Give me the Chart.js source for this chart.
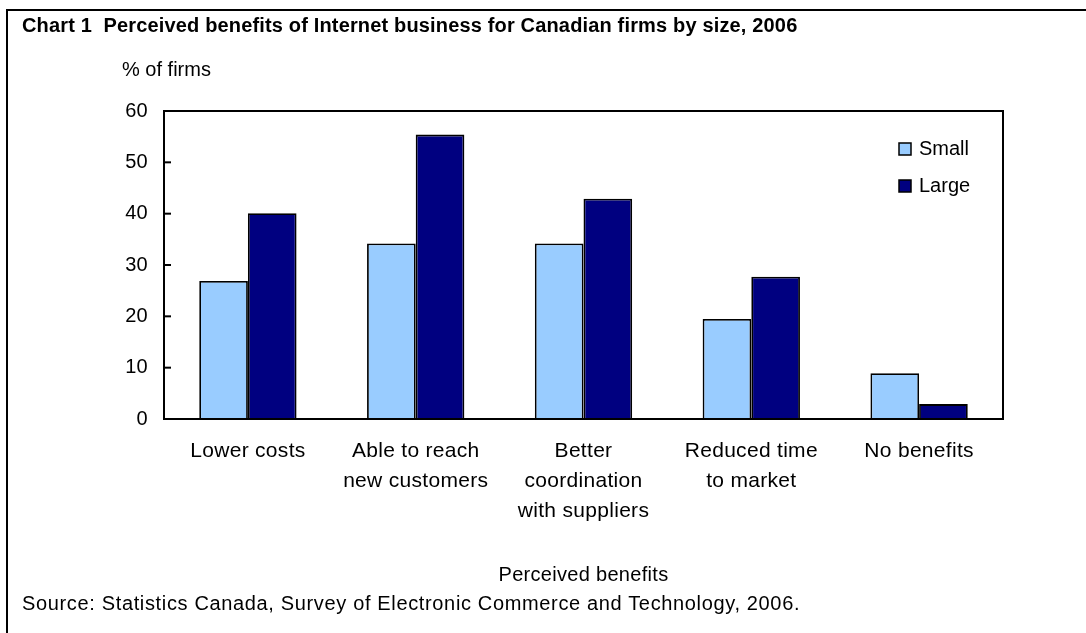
<!DOCTYPE html>
<html>
<head>
<meta charset="utf-8">
<script src="https://cdn.jsdelivr.net/npm/chart.js@4/dist/chart.umd.min.js"></script>
<style>
  html, body { margin:0; padding:0; width:1086px; height:633px; overflow:hidden; background:#fff; font-family:"Liberation Sans", Arial, sans-serif; }
  #frame { position:absolute; left:6px; top:9px; width:1200px; height:800px; border-left:2px solid #000; border-top:2px solid #000; }
  #wrap { position:absolute; left:0; top:0; width:1086px; height:633px; }
  .txt { position:absolute; white-space:nowrap; color:#000; }
  #title { left:22px; top:14px; font-weight:bold; font-size:20px; letter-spacing:0.16px; }
  #unit { left:122px; top:58px; font-size:20px; }
  #source { left:22px; top:592px; font-size:20px; letter-spacing:0.65px; }
</style>
</head>
<body>
<div id="frame"></div>
<div id="wrap"><canvas id="c" width="1086" height="633"></canvas></div>
<div class="txt" id="title">Chart 1&nbsp; Perceived benefits of Internet business for Canadian firms by size, 2006</div>
<div class="txt" id="unit">% of firms</div>
<div class="txt" id="source">Source: Statistics Canada, Survey of Electronic Commerce and Technology, 2006.</div>
<script>
const categories = [
  "Lower costs",
  ["Able to reach", "new customers"],
  ["Better", "coordination", "with suppliers"],
  ["Reduced time", "to market"],
  "No benefits"
];
const seriesNames = ["Small", "Large"];
const smallValues = [26.9, 34.2, 34.2, 19.5, 8.9];
const largeValues = [40.1, 55.4, 42.9, 27.7, 2.9];
const yTicks = [0, 10, 20, 30, 40, 50, 60];
const colors = ["#99CCFF", "#000080"];

const FONT = "'Liberation Sans', Arial, sans-serif";

const spacing = {
  id: 'spacing',
  beforeDraw(chart) { chart.ctx.letterSpacing = '0.3px'; }
};

const frameAndTicks = {
  id: 'frameAndTicks',
  afterDatasetsDraw(chart) {
    const ctx = chart.ctx, a = chart.chartArea, ys = chart.scales.y;
    ctx.save();
    ctx.strokeStyle = '#000';
    ctx.lineWidth = 2;
    ctx.strokeRect(a.left, a.top, a.right - a.left, a.bottom - a.top);
    ys.ticks.forEach(t => {
      const y = ys.getPixelForValue(t.value);
      ctx.beginPath();
      ctx.moveTo(a.left, y);
      ctx.lineTo(a.left + 7, y);
      ctx.stroke();
    });
    ctx.restore();
  }
};

const innerLegend = {
  id: 'innerLegend',
  afterDraw(chart) {
    const ctx = chart.ctx;
    ctx.save();
    ctx.letterSpacing = '0px';
    ctx.font = "20px " + FONT;
    ctx.textBaseline = 'middle';
    chart.data.datasets.forEach((ds, i) => {
      const cy = 149 + i * 37;
      ctx.fillStyle = ds.backgroundColor;
      ctx.fillRect(899, cy - 6, 12, 12);
      ctx.strokeStyle = '#000';
      ctx.lineWidth = 1.5;
      ctx.strokeRect(899, cy - 6, 12, 12);
      ctx.fillStyle = '#000';
      ctx.fillText(ds.label, 919, cy);
    });
    ctx.restore();
  }
};

new Chart(document.getElementById('c'), {
  type: 'bar',
  data: {
    labels: categories,
    datasets: [
      { label: seriesNames[0], data: smallValues, backgroundColor: colors[0], borderColor: '#000', borderWidth: 1.8, borderSkipped: 'bottom' },
      { label: seriesNames[1], data: largeValues, backgroundColor: colors[1], borderColor: '#000', borderWidth: 1.8, borderSkipped: 'bottom' }
    ]
  },
  options: {
    responsive: false,
    animation: false,
    devicePixelRatio: 1,
    layout: { padding: { left: 0, top: 111, right: 83, bottom: 0 } },
    plugins: { legend: { display: false }, tooltip: { enabled: false }, title: { display: false } },
    datasets: { bar: { categoryPercentage: 0.58, barPercentage: 1.0 } },
    scales: {
      x: {
        grid: { display: false, drawTicks: false },
        border: { display: false },
        ticks: { color: '#000', font: { family: FONT, size: 21, lineHeight: 1.43 }, padding: 17, maxRotation: 0, autoSkip: false },
        title: { display: true, text: 'Perceived benefits', color: '#000', font: { family: FONT, size: 20, lineHeight: 1.2 }, padding: { top: 0, bottom: 46 } },
        afterFit(s) { s.height = 214; }
      },
      y: {
        min: 0, max: 60,
        afterBuildTicks(s) { s.ticks = yTicks.map(v => ({ value: v })); },
        grid: { display: false, drawTicks: false },
        border: { display: false },
        ticks: { color: '#000', font: { family: FONT, size: 20 }, padding: 16 },
        afterFit(s) { s.width = 164; }
      }
    }
  },
  plugins: [spacing, frameAndTicks, innerLegend]
});
</script>
</body>
</html>
